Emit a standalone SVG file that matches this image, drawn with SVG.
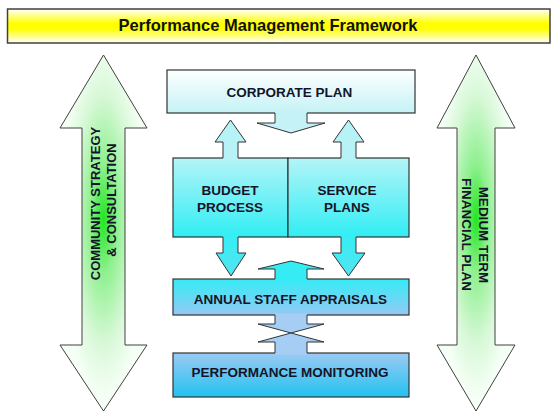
<svg xmlns="http://www.w3.org/2000/svg" width="552" height="412" viewBox="0 0 552 412">
<defs>
<linearGradient id="gTitle" x1="0" y1="0" x2="0" y2="1">
<stop offset="0" stop-color="#ffffff"/>
<stop offset="0.42" stop-color="#ffff00"/>
<stop offset="0.58" stop-color="#ffff00"/>
<stop offset="1" stop-color="#ffffff"/>
</linearGradient>
<radialGradient id="gGreen" cx="0.5" cy="0.46" r="0.5">
<stop offset="0" stop-color="#22e622"/>
<stop offset="0.3" stop-color="#8ef08e"/>
<stop offset="0.7" stop-color="#d8f8d8"/>
<stop offset="1" stop-color="#f6fff6"/>
</radialGradient>
<linearGradient id="gCorp" x1="0" y1="0" x2="0" y2="1">
<stop offset="0" stop-color="#ffffff"/>
<stop offset="1" stop-color="#c4f2f6"/>
</linearGradient>
<linearGradient id="gBudget" x1="0" y1="0" x2="0" y2="1">
<stop offset="0" stop-color="#b4f4f8"/>
<stop offset="1" stop-color="#30eef4"/>
</linearGradient>
<linearGradient id="gDown" x1="0" y1="0" x2="0" y2="1">
<stop offset="0" stop-color="#36eef4"/>
<stop offset="1" stop-color="#52e4f2"/>
</linearGradient>
<linearGradient id="gAnnual" x1="0" y1="0" x2="0" y2="1">
<stop offset="0" stop-color="#34ecf4"/>
<stop offset="1" stop-color="#94c8f4"/>
</linearGradient>
<linearGradient id="gMon" x1="0" y1="0" x2="0" y2="1">
<stop offset="0" stop-color="#9ccaf4"/>
<stop offset="1" stop-color="#22c2f0"/>
</linearGradient>
</defs>
<style>
.box{stroke:#333333;stroke-width:1.2}
.arr{stroke:none}
.ol{fill:none;stroke:#333333;stroke-width:1}
.big{fill:url(#gGreen);stroke:#404040;stroke-width:1}
.lbl{font-family:"Liberation Sans",Arial,sans-serif;font-weight:bold;font-size:13.5px;fill:#141428;text-anchor:middle}
.side{font-family:"Liberation Sans",Arial,sans-serif;font-weight:bold;font-size:13px;fill:#141428;text-anchor:middle}
.title{font-family:"Liberation Sans",Arial,sans-serif;font-weight:bold;font-size:16.5px;fill:#111111;text-anchor:middle}
</style>
<rect width="552" height="412" fill="#ffffff"/>

<g id="title">
<rect x="7.5" y="9" width="542.5" height="34" fill="url(#gTitle)" stroke="#404040" stroke-width="1.5"/>
<text class="title" x="268" y="31">Performance Management Framework</text>
</g>

<g id="community">
<polygon class="big" points="103.5,55 147,128 125,128 125,345 147,345 103.5,411 60,345 82,345 82,128 60,128"/>
<text class="side" transform="translate(100,203.5) rotate(-90)">COMMUNITY STRATEGY</text>
<text class="side" transform="translate(116,200) rotate(-90)">&amp; CONSULTATION</text>
</g>

<g id="mtfp">
<polygon class="big" points="476,55 515,128 495,128 495,345 515,345 476,411 437,345 457,345 457,128 437,128"/>
<text class="side" style="font-size:13.5px" transform="translate(478.5,235) rotate(90)">MEDIUM TERM</text>
<text class="side" style="font-size:13.5px" transform="translate(461.5,234.5) rotate(90)">FINANCIAL PLAN</text>
</g>

<g id="corporate">
<rect class="box" x="167" y="70" width="248" height="43" fill="url(#gCorp)"/>
<text class="lbl" x="289.5" y="96.5">CORPORATE PLAN</text>
</g>

<g id="budget">
<rect class="box" x="173" y="158" width="115" height="79" fill="url(#gBudget)"/>
<text class="lbl" x="230" y="195">BUDGET</text>
<text class="lbl" x="230" y="212">PROCESS</text>
</g>

<g id="service">
<rect class="box" x="288" y="158" width="121" height="79" fill="url(#gBudget)"/>
<text class="lbl" x="347" y="195">SERVICE</text>
<text class="lbl" x="347" y="212">PLANS</text>
</g>

<g id="appraisals">
<rect class="box" x="173" y="279" width="236" height="36" fill="url(#gAnnual)"/>
<text class="lbl" x="290.5" y="303.5">ANNUAL STAFF APPRAISALS</text>
</g>

<g id="monitoring">
<rect class="box" x="173" y="353" width="236" height="44" fill="url(#gMon)"/>
<text class="lbl" x="290" y="377">PERFORMANCE MONITORING</text>
</g>

<g id="connectors">
<!-- corporate plan down arrow -->
<polygon class="arr" fill="#c4f2f6" points="275,111 275,123 257,123 291,133 325,123 307,123 307,111"/>
<path class="ol" d="M275,113 V123 H257 L291,133 L325,123 H307 V113"/>
<!-- budget up arrow -->
<polygon class="arr" fill="#b6f2f6" points="223,159.5 223,142 215,142 230.5,120 246,142 238,142 238,159.5"/>
<path class="ol" d="M223,158 V142 H215 L230.5,120 L246,142 H238 V158"/>
<!-- service up arrow -->
<polygon class="arr" fill="#b6f2f6" points="341,159.5 341,142 333,142 348.5,120 364,142 356,142 356,159.5"/>
<path class="ol" d="M341,158 V142 H333 L348.5,120 L364,142 H356 V158"/>
<!-- budget down arrow -->
<polygon class="arr" fill="url(#gDown)" points="223,235.5 223,253 216,253 231,276 246,253 238,253 238,235.5"/>
<path class="ol" d="M223,237 V253 H216 L231,276 L246,253 H238 V237"/>
<!-- service down arrow -->
<polygon class="arr" fill="url(#gDown)" points="341,235.5 341,253 332,253 348.5,276 365,253 356,253 356,235.5"/>
<path class="ol" d="M341,237 V253 H332 L348.5,276 L365,253 H356 V237"/>
<!-- appraisals up arrow -->
<polygon class="arr" fill="#36ecf4" points="275,280.5 275,269 258,269 291,261 324,269 307,269 307,280.5"/>
<path class="ol" d="M275,279 V269 H258 L291,261 L324,269 H307 V279"/>
<!-- appraisals / monitoring two-way -->
<polygon class="arr" fill="#a6cef4" points="275,313.5 275,324 258,324 291,333 324,324 307,324 307,313.5"/>
<path class="ol" d="M275,315 V324 H258 L291,333 L324,324 H307 V315"/>
<polygon class="arr" fill="#a6cef4" points="275,354.5 275,342 258,342 291,333 324,342 307,342 307,354.5"/>
<path class="ol" d="M275,353 V342 H258 L291,333 L324,342 H307 V353"/>
</g>
</svg>
